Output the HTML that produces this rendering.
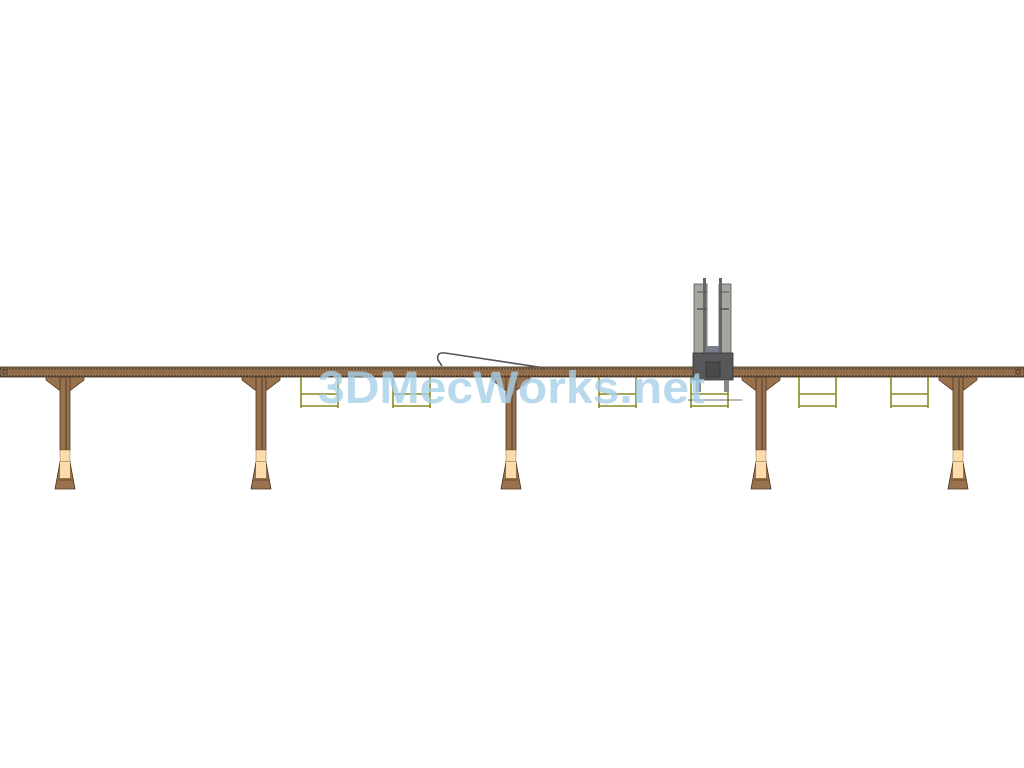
<!DOCTYPE html>
<html><head><meta charset="utf-8"><style>html,body{margin:0;padding:0;background:#fff;width:1024px;height:768px;overflow:hidden}</style></head>
<body>
<svg width="1024" height="768" viewBox="0 0 1024 768" xmlns="http://www.w3.org/2000/svg">
<defs>
<g id="leg">
 <path d="M-19,377 L19,377 L19,380 L6,390 L-6,390 L-19,380 Z" fill="#9a714d" stroke="#5a3e26" stroke-width="0.8"/>
 <rect x="-5" y="377" width="10" height="73" fill="#9a714d" stroke="#4a3420" stroke-width="0.8"/>
 <line x1="1" y1="378" x2="1" y2="450" stroke="#333" stroke-width="0.8"/>
 <rect x="-5" y="450" width="10" height="28" fill="#fddcac" stroke="#8a6a4a" stroke-width="0.5"/>
 <path d="M-5,462 L5,462 L10,489 L-10,489 Z" fill="#9a714d" stroke="#4a3420" stroke-width="0.8"/>
 <path d="M-5,462 L-5,478 L5,478 L5,462" fill="#fddcac"/>
 <line x1="-8" y1="480" x2="8" y2="480" stroke="#4a3420" stroke-width="0.6"/>
</g>
<g id="frame" fill="none" stroke="#8a8a20" stroke-width="1.6">
 <line x1="1" y1="377" x2="1" y2="408"/>
 <line x1="38" y1="377" x2="38" y2="408"/>
 <line x1="1" y1="394" x2="38" y2="394"/>
 <line x1="1" y1="406" x2="38" y2="406"/>
</g>
</defs>
<!-- beam -->
<rect x="0" y="367" width="1024" height="10" fill="#9a714d" stroke="#3a2a1a" stroke-width="0.8"/>
<line x1="0" y1="369" x2="1024" y2="369" stroke="#333" stroke-width="1" stroke-dasharray="2,1"/>
<line x1="0" y1="372" x2="1024" y2="372" stroke="#6a4a30" stroke-width="0.6"/>
<line x1="0" y1="376" x2="1024" y2="376" stroke="#333" stroke-width="1" stroke-dasharray="2,1"/>
<rect x="3" y="370" width="4" height="4" fill="none" stroke="#333" stroke-width="0.7"/>
<rect x="1016" y="370" width="4" height="4" fill="none" stroke="#333" stroke-width="0.7"/>
<!-- cable -->
<path d="M545,368 L445,353 Q436,352 438,360 L442,366" fill="none" stroke="#555" stroke-width="1.6"/>
<use href="#leg" x="65"/><use href="#leg" x="261"/><use href="#leg" x="511"/><use href="#leg" x="761"/><use href="#leg" x="958"/>
<use href="#frame" x="300"/><use href="#frame" x="392"/><use href="#frame" x="598"/><use href="#frame" x="690"/><use href="#frame" x="798"/><use href="#frame" x="890"/>
<!-- carriage -->
<rect x="694" y="284" width="13" height="70" fill="#a8a5a0" stroke="#555" stroke-width="0.8"/>
<rect x="719" y="284" width="12" height="70" fill="#a8a5a0" stroke="#555" stroke-width="0.8"/>
<rect x="703" y="278" width="3" height="75" fill="#666"/>
<rect x="719" y="278" width="3" height="75" fill="#666"/>
<line x1="697" y1="309" x2="707" y2="309" stroke="#555" stroke-width="1.5"/>
<line x1="719" y1="309" x2="729" y2="309" stroke="#555" stroke-width="1.5"/>
<line x1="697" y1="292" x2="707" y2="292" stroke="#555" stroke-width="1"/>
<line x1="719" y1="292" x2="729" y2="292" stroke="#555" stroke-width="1"/>
<rect x="707" y="346" width="12" height="7" fill="#7a7d8a"/>
<rect x="693" y="353" width="40" height="27" fill="#58585a" stroke="#333" stroke-width="0.8"/>
<rect x="706" y="362" width="14" height="15" fill="#4a4a4c" stroke="#333" stroke-width="0.8"/>
<rect x="696" y="380" width="5" height="12" fill="#888"/>
<rect x="724" y="380" width="5" height="12" fill="#888"/>
<line x1="688" y1="400" x2="742" y2="400" stroke="#444" stroke-width="0.8"/>
<!-- watermark -->
<text x="318" y="403" font-family="Liberation Sans, sans-serif" font-weight="bold" font-size="45" fill="#a8cfe9" fill-opacity="0.8" textLength="387" lengthAdjust="spacingAndGlyphs">3DMecWorks.net</text>
</svg>
</body></html>
